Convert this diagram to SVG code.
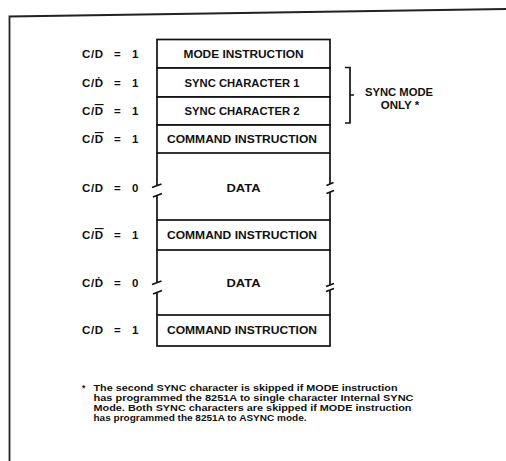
<svg xmlns="http://www.w3.org/2000/svg" width="506" height="461" viewBox="0 0 506 461">
<style>
  .box { fill: #fff; stroke: #111; stroke-width: 1.7; }
  .ln { fill: none; stroke: #111; stroke-width: 1.7; }
  .frame { fill: none; stroke: #222; stroke-width: 1.8; }
  .t { font-family: "Liberation Sans", Arial, sans-serif; font-weight: bold; font-size: 11.5px; fill: #111; text-anchor: middle; }
  .lab { font-family: "Liberation Sans", Arial, sans-serif; font-weight: bold; font-size: 11.5px; fill: #111; }
  .cd { letter-spacing: 0.6px; }
  .note { font-family: "Liberation Sans", Arial, sans-serif; font-weight: bold; font-size: 8.6px; fill: #111; }
  .ov { text-decoration: overline; }
</style>
<rect width="506" height="461" fill="#fff"/>
<path class="frame" d="M9.5,461 V16.5 L506,9"/>

<g id="row1">
  <rect class="box" x="157" y="39.5" width="173" height="28.5"/>
  <text class="t" x="243.5" y="58" textLength="120" lengthAdjust="spacingAndGlyphs">MODE INSTRUCTION</text>
  <text class="lab" x="82" y="58"><tspan class="cd">C/D</tspan><tspan x="114">=</tspan><tspan x="132">1</tspan></text>
</g>
<g id="row2">
  <rect class="box" x="157" y="68" width="173" height="29"/>
  <text class="t" x="242" y="86.5" textLength="115" lengthAdjust="spacingAndGlyphs">SYNC CHARACTER 1</text>
  <text class="lab" x="82" y="86.5"><tspan class="cd">C/Ḋ</tspan><tspan x="114">=</tspan><tspan x="132">1</tspan></text>
</g>
<g id="row3">
  <rect class="box" x="157" y="97" width="173" height="28"/>
  <text class="t" x="242" y="115" textLength="115" lengthAdjust="spacingAndGlyphs">SYNC CHARACTER 2</text>
  <text class="lab" x="82" y="115"><tspan class="cd">C/<tspan class="ov">D</tspan></tspan><tspan x="114">=</tspan><tspan x="132">1</tspan></text>
</g>
<g id="row4">
  <rect class="box" x="157" y="125" width="173" height="28"/>
  <text class="t" x="242" y="143" textLength="150" lengthAdjust="spacingAndGlyphs">COMMAND INSTRUCTION</text>
  <text class="lab" x="82" y="143"><tspan class="cd">C/<tspan class="ov">D</tspan></tspan><tspan x="114">=</tspan><tspan x="132">1</tspan></text>
</g>
<g id="row5">
  <path class="ln" d="M157,153 V185.5 M152,187.5 L161.5,184 M153,197 L162,193.5 M157,195 V220"/>
  <path class="ln" d="M330,153 V184.5 M326.5,185.5 L333.5,182.5 M326.5,193.5 L334,190.5 M330,192 V220"/>
  <text class="t" x="243.5" y="192" textLength="34" lengthAdjust="spacingAndGlyphs">DATA</text>
  <text class="lab" x="82" y="192"><tspan class="cd">C/D</tspan><tspan x="114">=</tspan><tspan x="132">0</tspan></text>
</g>
<g id="row6">
  <rect class="box" x="157" y="220" width="173" height="30"/>
  <text class="t" x="242" y="239" textLength="150" lengthAdjust="spacingAndGlyphs">COMMAND INSTRUCTION</text>
  <text class="lab" x="82" y="239"><tspan class="cd">C/<tspan class="ov">D</tspan></tspan><tspan x="114">=</tspan><tspan x="132">1</tspan></text>
</g>
<g id="row7">
  <path class="ln" d="M157,250 V282.5 M152,284.5 L161.5,281 M153,294 L162,290.5 M157,292 V315"/>
  <path class="ln" d="M330,250 V284.5 M326,286.5 L334,283.5 M326,291.5 L334,288.5 M330,290 V315"/>
  <text class="t" x="243.5" y="287" textLength="34" lengthAdjust="spacingAndGlyphs">DATA</text>
  <text class="lab" x="82" y="287"><tspan class="cd">C/Ḋ</tspan><tspan x="114">=</tspan><tspan x="132">0</tspan></text>
</g>
<g id="row8">
  <rect class="box" x="157" y="315" width="173" height="31"/>
  <text class="t" x="242" y="334" textLength="150" lengthAdjust="spacingAndGlyphs">COMMAND INSTRUCTION</text>
  <text class="lab" x="82" y="334"><tspan class="cd">C/D</tspan><tspan x="114">=</tspan><tspan x="132">1</tspan></text>
</g>

<g id="connectors">
  <path class="ln" d="M345,67.5 H350 V123 H345 M350,95 H354"/>
</g>
<g id="sync-note">
  <text class="t" x="399" y="96" textLength="68" lengthAdjust="spacingAndGlyphs">SYNC MODE</text>
  <text class="t" x="400" y="109">ONLY *</text>
</g>

<g id="footnote">
  <text class="note" x="82" y="391">*</text>
  <text class="note" x="93.5" y="390.5" textLength="304" lengthAdjust="spacingAndGlyphs">The second SYNC character is skipped if MODE instruction</text>
  <text class="note" x="93.5" y="400.5" textLength="320" lengthAdjust="spacingAndGlyphs">has programmed the 8251A to single character Internal SYNC</text>
  <text class="note" x="93.5" y="410.5" textLength="318" lengthAdjust="spacingAndGlyphs">Mode. Both SYNC characters are skipped if MODE instruction</text>
  <text class="note" x="93.5" y="420.5" textLength="213" lengthAdjust="spacingAndGlyphs">has programmed the 8251A to ASYNC mode.</text>
</g>
</svg>
